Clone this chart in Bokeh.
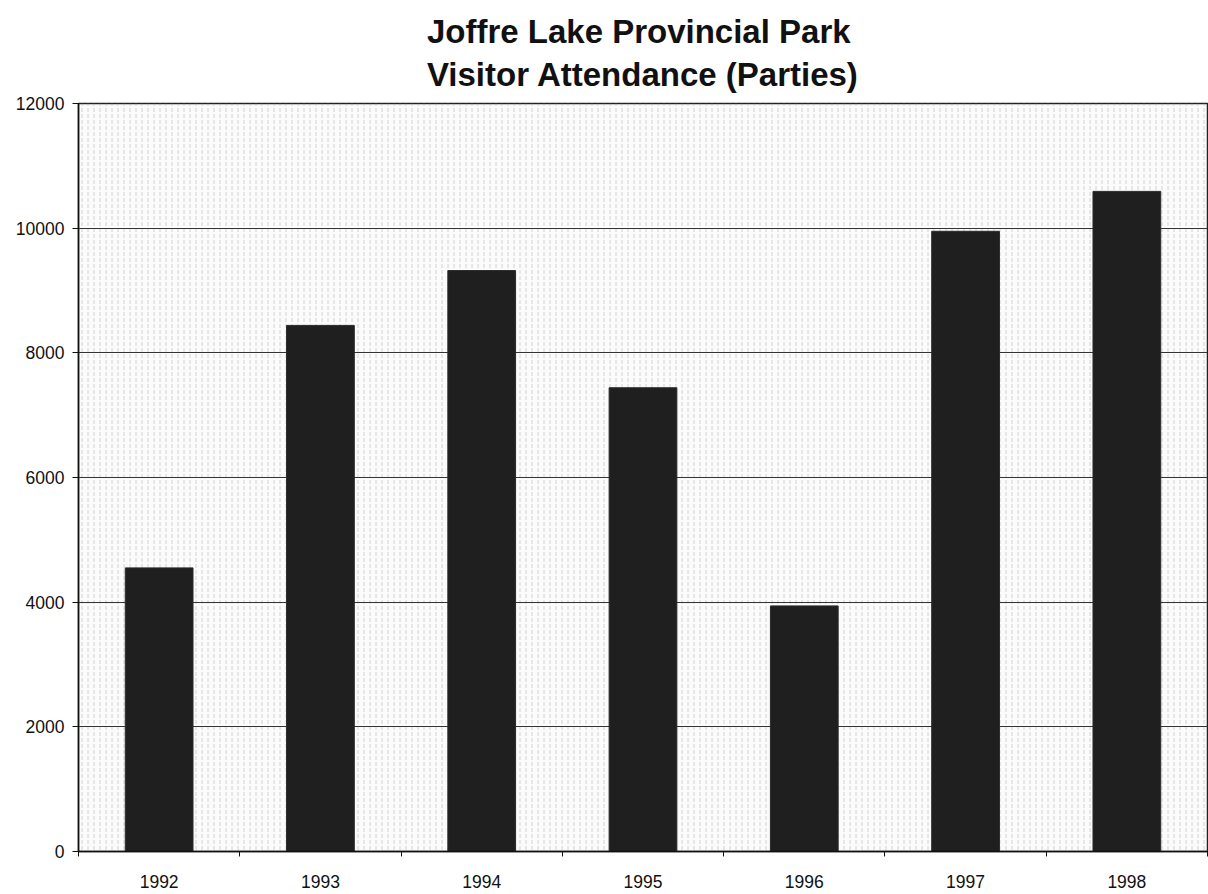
from bokeh.plotting import figure
from bokeh.models import Range1d, FixedTicker, Title, BoxAnnotation
from bokeh.embed import file_html
from bokeh.resources import INLINE

years = ["1992", "1993", "1994", "1995", "1996", "1997", "1998"]
parties = [4550, 8440, 9320, 7440, 3940, 9950, 10590]
y_ticks = [0, 2000, 4000, 6000, 8000, 10000, 12000]
title_line1 = "Joffre Lake Provincial Park"
title_line2 = "Visitor Attendance (Parties)"

FONT = "Liberation Sans"

n = len(years)
centers = [i + 0.5 for i in range(n)]
bounds = list(range(n + 1))

p = figure(width=1208, height=890, output_backend="svg", toolbar_location=None,
           x_range=Range1d(0, n), y_range=Range1d(0, 12000),
           min_border_left=78, min_border_right=1, min_border_top=103, min_border_bottom=38)

p.background_fill_color = "#fbfbfb"
p.outline_line_color = "#222222"
p.outline_line_width = 1.5

tex = BoxAnnotation(level="image", fill_alpha=0, line_alpha=0,
                    hatch_pattern=":", hatch_color="#b5b5b5", hatch_scale=6,
                    hatch_weight=1, hatch_alpha=0.6)
p.add_layout(tex)

p.vbar(x=centers, top=parties, width=0.42,
       fill_color="#1f1f1f", line_color="#2a2a2a", line_width=1)

p.add_layout(Title(text=title_line1 + "\n" + title_line2, align="center", offset=0,
                   text_font=FONT, text_font_size="33px", text_line_height=1.15,
                   text_font_style="bold", text_color="#111111", standoff=21), "above")

# y axis
ya = p.yaxis[0]
ya.ticker = FixedTicker(ticks=y_ticks)
ya.major_label_text_font = FONT
ya.major_label_text_font_size = "17.5px"
ya.major_label_text_color = "#111111"
ya.axis_line_color = "#111111"
ya.axis_line_width = 1.5
ya.major_tick_out = 6
ya.major_tick_in = 0
ya.minor_tick_out = 0
ya.minor_tick_in = 0
ya.major_tick_line_color = "#111111"
ya.major_label_standoff = 8

# x axis: labels at centres, small ticks at category boundaries
xa = p.xaxis[0]
xa.ticker = FixedTicker(ticks=centers, minor_ticks=bounds)
xa.major_label_overrides = {c: y for c, y in zip(centers, years)}
xa.major_label_text_font = FONT
xa.major_label_text_font_size = "17.5px"
xa.major_label_text_color = "#111111"
xa.major_label_standoff = 18
xa.major_tick_out = 0
xa.major_tick_in = 0
xa.minor_tick_out = 5
xa.minor_tick_in = 0
xa.minor_tick_line_color = "#111111"
xa.axis_line_color = "#111111"
xa.axis_line_width = 1.5

p.xgrid.grid_line_color = None
p.ygrid.ticker = FixedTicker(ticks=y_ticks)
p.ygrid.grid_line_color = "#333333"
p.ygrid.grid_line_width = 1

open("out.html", "w").write(file_html(p, INLINE))
